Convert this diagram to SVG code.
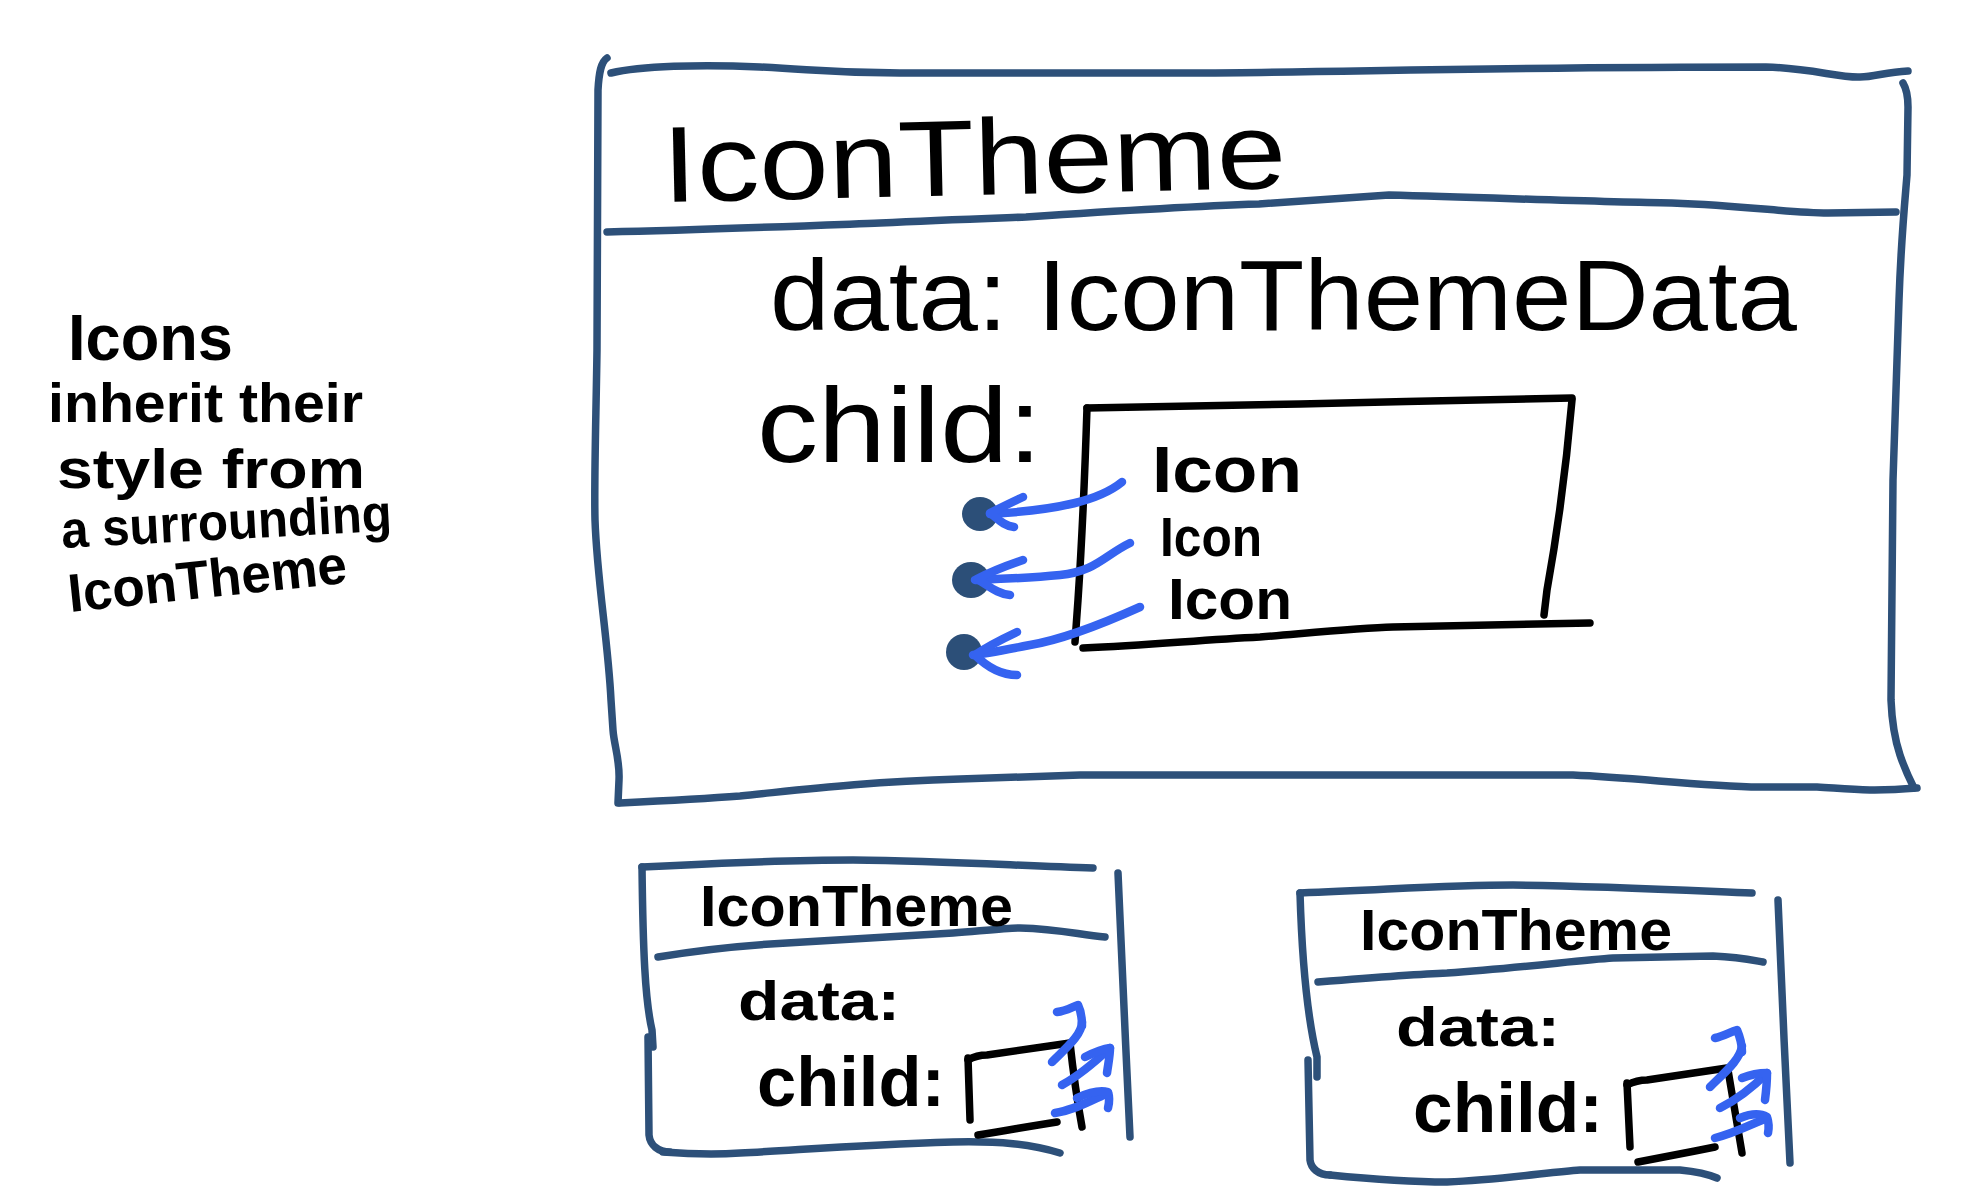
<svg xmlns="http://www.w3.org/2000/svg" width="1974" height="1194" viewBox="0 0 1974 1194">
<style>
  .frame { fill: none; stroke: #2d5079; stroke-width: 7.5; stroke-linecap: round; stroke-linejoin: round; }
  .ink { fill: none; stroke: #000; stroke-width: 7.5; stroke-linecap: round; stroke-linejoin: round; }
  .arrow { fill: none; stroke: #3563f0; stroke-width: 8.5; stroke-linecap: round; stroke-linejoin: round; }
  .dot { fill: #2c4f78; }
  .t { font-family: "Liberation Sans", Arial, sans-serif; fill: #000; }
  .tb { font-family: "Liberation Sans", Arial, sans-serif; fill: #000; font-weight: bold; }
</style>
<rect width="1974" height="1194" fill="#fff"/>

<g id="note">
  <text class="tb" x="68" y="360" font-size="64" textLength="165" lengthAdjust="spacingAndGlyphs">Icons</text>
  <text class="tb" x="48" y="422" font-size="56" textLength="315" lengthAdjust="spacingAndGlyphs">inherit their</text>
  <text class="tb" x="57" y="488" font-size="56" textLength="308" lengthAdjust="spacingAndGlyphs">style from</text>
  <text class="tb" x="62" y="548" font-size="52" textLength="331" lengthAdjust="spacingAndGlyphs" transform="rotate(-3 62 548)">a surrounding</text>
  <text class="tb" x="70" y="612" font-size="54" textLength="280" lengthAdjust="spacingAndGlyphs" transform="rotate(-6 70 612)">IconTheme</text>
</g>

<g id="main-theme">
  <path class="frame" d="M611,73 C640,66 700,64 760,67 S830,73 900,73 L1200,73 C1350,72 1500,67 1766,67 C1810,68 1840,78 1860,77 C1875,77 1885,72 1908,71"/>
  <path class="frame" d="M607,58 C601,62 599,72 598,90 L597,350 C596,420 594,480 595,520 C597,580 608,640 611,700 L613,730 C614,745 620,760 619,780 L618,803"/>
  <path class="frame" d="M620,803 C660,801 700,799 740,796 C800,790 860,782 960,779 L1080,775 L1573,775 C1640,778 1700,786 1760,787 L1817,787 C1850,789 1870,792 1917,788"/>
  <path class="frame" d="M1903,83 C1906,88 1908,95 1908,107 L1907,175 C1905,200 1901,240 1899,300 L1893,480 L1891,700 C1892,725 1895,740 1900,755 C1905,770 1910,780 1914,788"/>
  <path class="frame" d="M607,232 C700,230 800,226 880,223 C940,220 1000,218 1026,217 C1100,212 1200,206 1259,204 L1389,195 C1500,198 1600,202 1672,203 C1750,206 1790,213 1828,213 L1896,212"/>
  <text class="t" x="663" y="202" font-size="108" textLength="624" lengthAdjust="spacingAndGlyphs" transform="rotate(-1.3 663 202)">IconTheme</text>
  <text class="t" x="770" y="330" font-size="100" textLength="1027" lengthAdjust="spacingAndGlyphs">data: IconThemeData</text>
  <text class="t" x="757" y="462" font-size="106" textLength="285" lengthAdjust="spacingAndGlyphs">child:</text>
</g>

<g id="child-box">
  <path class="ink" d="M1087,408 L1300,404 C1400,402 1450,400 1572,398"/>
  <path class="ink" d="M1087,408 C1085,470 1082,540 1078,600 L1075,642"/>
  <path class="ink" d="M1572,400 C1566,470 1556,540 1547,590 L1544,615"/>
  <path class="ink" d="M1083,648 C1150,645 1200,640 1260,637 C1320,632 1360,628 1393,627 L1590,623"/>
</g>
<g id="icon-1"><text class="tb" x="1152" y="492" font-size="64" textLength="150" lengthAdjust="spacingAndGlyphs">Icon</text></g>
<g id="icon-2"><text class="tb" x="1160" y="556" font-size="55" textLength="102" lengthAdjust="spacingAndGlyphs">Icon</text></g>
<g id="icon-3"><text class="tb" x="1168" y="619" font-size="58" textLength="124" lengthAdjust="spacingAndGlyphs">Icon</text></g>

<g id="small-theme-1">
  <path class="frame" d="M642,867 C700,864 780,860 853,860 C950,861 1020,866 1093,868"/>
  <path class="frame" d="M642,867 C643,950 645,1000 652,1030 L653,1047"/>
  <path class="frame" d="M648,1037 L649,1135 C650,1145 658,1152 670,1152"/>
  <path class="frame" d="M663,1152 C690,1154 710,1155 740,1153 C800,1150 853,1145 953,1142 C1000,1141 1030,1144 1060,1153"/>
  <path class="frame" d="M1118,873 C1121,950 1126,1050 1130,1137"/>
  <path class="frame" d="M658,957 C700,950 750,945 787,943 L953,933 C990,930 1010,928 1020,928 C1060,929 1080,935 1105,937"/>
  <text class="tb" x="700" y="926" font-size="58" textLength="313" lengthAdjust="spacingAndGlyphs">IconTheme</text>
  <text class="tb" x="738" y="1020" font-size="56" textLength="162" lengthAdjust="spacingAndGlyphs">data:</text>
  <text class="tb" x="757" y="1106" font-size="70" textLength="188" lengthAdjust="spacingAndGlyphs">child:</text>
  <path class="ink" d="M968,1060 C975,1056 980,1055 987,1055 L1070,1043"/>
  <path class="ink" d="M968,1058 L970,1120"/>
  <path class="ink" d="M1070,1043 C1074,1080 1078,1105 1082,1127"/>
  <path class="ink" d="M978,1135 C1010,1130 1030,1126 1057,1122"/>
</g>

<g id="small-theme-2">
  <path class="frame" d="M1300,893 C1400,889 1450,885 1513,885 C1600,886 1680,890 1752,893"/>
  <path class="frame" d="M1300,893 C1302,960 1308,1020 1317,1057 L1317,1077"/>
  <path class="frame" d="M1308,1060 L1310,1160 C1311,1168 1318,1175 1330,1175"/>
  <path class="frame" d="M1330,1175 C1380,1180 1420,1182 1447,1182 C1500,1180 1550,1172 1580,1170 L1680,1170 C1700,1172 1710,1175 1717,1178"/>
  <path class="frame" d="M1778,900 C1781,980 1786,1080 1790,1163"/>
  <path class="frame" d="M1318,982 C1380,977 1420,974 1447,973 C1520,968 1580,960 1613,958 L1713,956 C1740,957 1752,960 1763,962"/>
  <text class="tb" x="1360" y="950" font-size="58" textLength="312" lengthAdjust="spacingAndGlyphs">IconTheme</text>
  <text class="tb" x="1396" y="1046" font-size="56" textLength="164" lengthAdjust="spacingAndGlyphs">data:</text>
  <text class="tb" x="1413" y="1132" font-size="70" textLength="190" lengthAdjust="spacingAndGlyphs">child:</text>
  <path class="ink" d="M1627,1085 C1635,1081 1640,1080 1647,1080 L1727,1068"/>
  <path class="ink" d="M1627,1083 L1630,1147"/>
  <path class="ink" d="M1728,1070 C1733,1100 1738,1130 1742,1153"/>
  <path class="ink" d="M1638,1162 C1670,1156 1690,1152 1715,1147"/>
</g>

<g id="connectors">
  <ellipse class="dot" cx="980" cy="514" rx="18" ry="17"/>
  <ellipse class="dot" cx="971" cy="580" rx="19" ry="18"/>
  <ellipse class="dot" cx="964" cy="652" rx="18" ry="18"/>
  <path class="arrow" d="M1122,482 C1100,500 1060,510 990,514"/>
  <path class="arrow" d="M1023,497 C1010,503 998,509 990,513 C998,519 1004,526 1014,527"/>
  <path class="arrow" d="M1130,543 C1105,555 1095,572 1060,575 C1030,578 1000,579 975,580"/>
  <path class="arrow" d="M1023,560 C1005,566 990,572 977,579 C988,585 997,594 1010,595"/>
  <path class="arrow" d="M1140,607 C1100,625 1060,640 1030,645 C1005,650 985,654 973,655"/>
  <path class="arrow" d="M1017,632 C1000,640 985,648 975,655 C985,665 1000,675 1017,675"/>

  <path class="arrow" d="M1052,1062 C1066,1048 1082,1035 1082,1022"/>
  <path class="arrow" d="M1057,1012 C1066,1011 1072,1007 1078,1005 C1081,1011 1082,1018 1082,1026"/>
  <path class="arrow" d="M1062,1085 C1080,1075 1095,1062 1110,1048"/>
  <path class="arrow" d="M1085,1057 C1095,1052 1102,1049 1110,1048 C1110,1056 1108,1065 1107,1073"/>
  <path class="arrow" d="M1055,1113 C1075,1110 1092,1100 1108,1093"/>
  <path class="arrow" d="M1077,1098 C1090,1092 1100,1090 1108,1092 C1110,1098 1109,1104 1108,1108"/>

  <path class="arrow" d="M1710,1087 C1725,1072 1740,1060 1742,1046"/>
  <path class="arrow" d="M1715,1038 C1724,1036 1730,1032 1737,1030 C1740,1037 1742,1044 1742,1052"/>
  <path class="arrow" d="M1720,1108 C1740,1098 1755,1085 1767,1073"/>
  <path class="arrow" d="M1742,1078 C1752,1074 1760,1073 1767,1073 C1767,1083 1766,1092 1765,1100"/>
  <path class="arrow" d="M1715,1138 C1735,1133 1752,1124 1767,1118"/>
  <path class="arrow" d="M1740,1118 C1750,1114 1760,1113 1767,1117 C1769,1123 1769,1128 1768,1133"/>
</g>
</svg>
